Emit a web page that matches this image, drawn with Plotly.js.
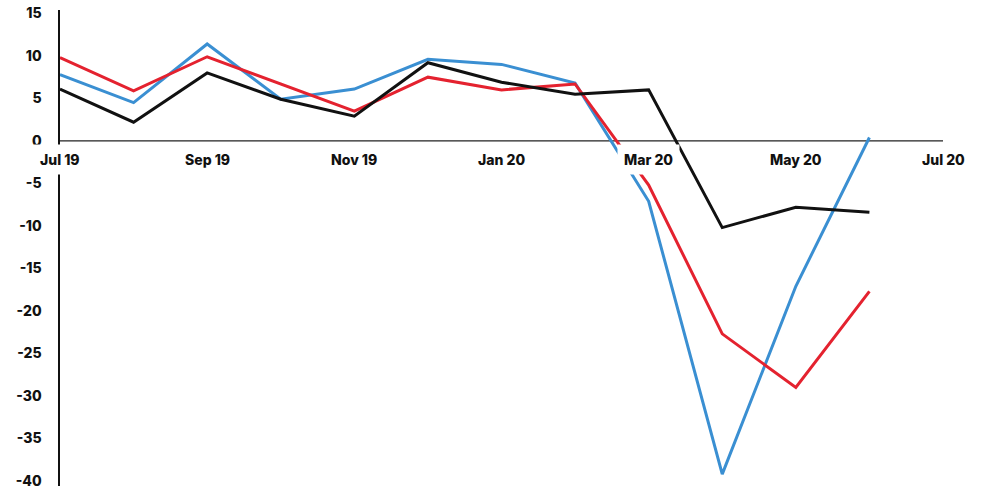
<!DOCTYPE html>
<html>
<head>
<meta charset="utf-8">
<script src="https://cdn.plot.ly/plotly-3.0.1.min.js"></script>
<style>
  html, body { margin: 0; padding: 0; background: #ffffff; }
  #chart { width: 982px; height: 493px; }
</style>
</head>
<body>
<div id="chart"></div>
<script>
// Monthly readings, Jul 2019 to Jun 2020
const months = ['Jul 19','Aug 19','Sep 19','Oct 19','Nov 19','Dec 19',
                'Jan 20','Feb 20','Mar 20','Apr 20','May 20','Jun 20'];
const blueSeries  = [7.8, 4.5, 11.4, 4.9, 6.1, 9.6, 9.0, 6.8, -7.1, -39.2, -17.1, 0.4];
const redSeries   = [9.8, 5.9, 9.9, 6.7, 3.5, 7.5, 6.0, 6.7, -5.2, -22.7, -29.0, -17.7];
const blackSeries = [6.1, 2.2, 8.0, 4.9, 2.9, 9.2, 6.9, 5.5, 6.0, -10.2, -7.8, -8.4];

// Axis labels
const xTickLabels = ['Jul 19','Sep 19','Nov 19','Jan 20','Mar 20','May 20','Jul 20'];
const xTickPos    = [0, 2, 4, 6, 8, 10, 12];
const yTickVals   = [15, 10, 5, 0, -5, -10, -15, -20, -25, -30, -35, -40];

const xIdx = months.map((_, i) => i);
const font = { family: 'Inter, "DejaVu Sans", sans-serif', size: 14, color: '#111', weight: 800 };

function line(y, color, name) {
  return {
    x: xIdx, y: y, name: name, type: 'scatter', mode: 'lines',
    line: { color: color, width: 3, shape: 'linear' },
    hoverinfo: 'x+y', text: months
  };
}

const traces = [
  line(blueSeries, '#3a8fd2', 'blue'),
  line(redSeries, '#e4222f', 'red'),
  line(blackSeries, '#111111', 'black')
];

// Month labels sit on white boxes just under the zero line
const annotations = xTickLabels.map((t, i) => ({
  x: xTickPos[i], y: -2.2, xref: 'x', yref: 'y',
  text: t, showarrow: false,
  xanchor: 'center', yanchor: 'middle',
  bgcolor: '#ffffff', borderpad: 6,
  font: font
}));

const layout = {
  width: 982, height: 493,
  margin: { l: 60, r: 39, t: 10, b: 7 },
  paper_bgcolor: '#ffffff',
  plot_bgcolor: '#ffffff',
  showlegend: false,
  xaxis: {
    range: [0, 12],
    showgrid: false, zeroline: false, showline: false,
    showticklabels: false, ticks: '',
    fixedrange: true
  },
  yaxis: {
    range: [-40.6, 15.4],
    tickvals: yTickVals,
    ticktext: yTickVals.map(String),
    showgrid: false, zeroline: false,
    showline: true, linecolor: '#111', linewidth: 1.6,
    ticks: '', ticklabelstandoff: 14,
    tickfont: font,
    fixedrange: true
  },
  shapes: [{
    type: 'line', xref: 'x', yref: 'y',
    x0: 0, x1: 12, y0: 0, y1: 0,
    line: { color: '#222', width: 1.3 },
    layer: 'below'
  }],
  annotations: annotations
};

Plotly.newPlot('chart', traces, layout, { displayModeBar: false, staticPlot: true });
</script>
</body>
</html>
